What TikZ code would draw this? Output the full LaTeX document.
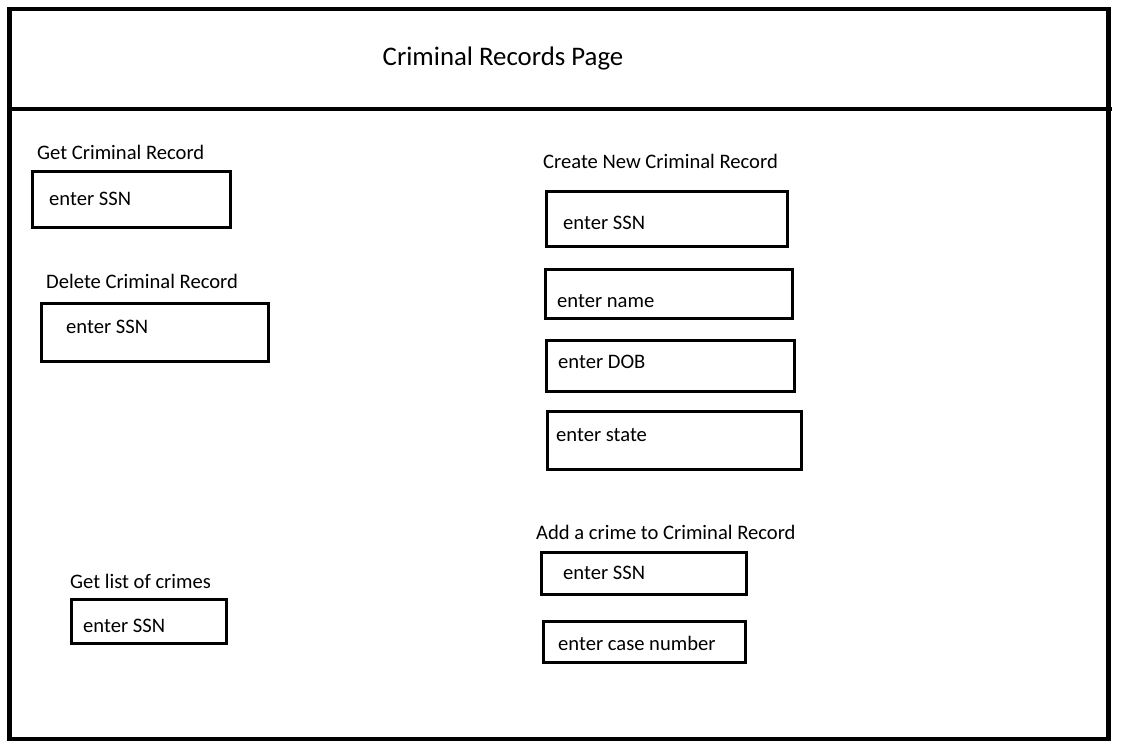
\documentclass[tikz,border=0pt]{standalone}
\usepackage{fontspec}
\setmainfont{Carlito}
\begin{document}
\begin{tikzpicture}[x=1pt,y=-1pt,
  frame/.style={line width=4.5pt},
  field/.style={draw,line width=3pt,inner sep=0pt},
  lbl/.style={anchor=west,inner sep=0pt,font=\fontsize{20.6}{24}\selectfont},
  ftxt/.style={anchor=west,inner sep=0pt,font=\fontsize{20.6}{24}\selectfont}]
\useasboundingbox (0,0) rectangle (1128,753);
\draw[frame] (9.5,9) rectangle (1108.5,739);
\coordinate (hl) at (9.5,109);
\coordinate (hr) at (1112,109);
\draw[frame] (hl) -- (hr);
\node[anchor=center,inner sep=0pt,font=\fontsize{26.8}{31}\selectfont] (title) at (503,58) {Criminal Records Page};
% left column
\node[lbl] (l1) at (37,152) {Get Criminal Record};
\draw[field] (32,171) rectangle (230,227);
\node[ftxt] (t1) at (49,199) {enter SSN};
\node[lbl] (l2) at (46,281) {Delete Criminal Record};
\draw[field] (41,303) rectangle (268,361);
\node[ftxt] (t2) at (66,327) {enter SSN};
\node[lbl] (l3) at (70,581) {Get list of crimes};
\draw[field] (71,599) rectangle (226,643);
\node[ftxt] (t3) at (83,626) {enter SSN};
% right column
\node[lbl] (l4) at (543,161) {Create New Criminal Record};
\draw[field] (546,191) rectangle (787,246);
\node[ftxt] (t4) at (563,223) {enter SSN};
\draw[field] (545,269) rectangle (792,318);
\node[ftxt] (t5) at (557,301) {enter name};
\draw[field] (546,340) rectangle (794,391);
\node[ftxt] (t6) at (558,362) {enter DOB};
\draw[field] (547,411) rectangle (801,469);
\node[ftxt] (t7) at (556,435) {enter state};
\node[lbl] (l5) at (536,532) {Add a crime to Criminal Record};
\draw[field] (541,552) rectangle (746,594);
\node[ftxt] (t8) at (563,573) {enter SSN};
\draw[field] (543,621) rectangle (745,662);
\node[ftxt] (t9) at (558,643) {enter case number};
\end{tikzpicture}
\end{document}
